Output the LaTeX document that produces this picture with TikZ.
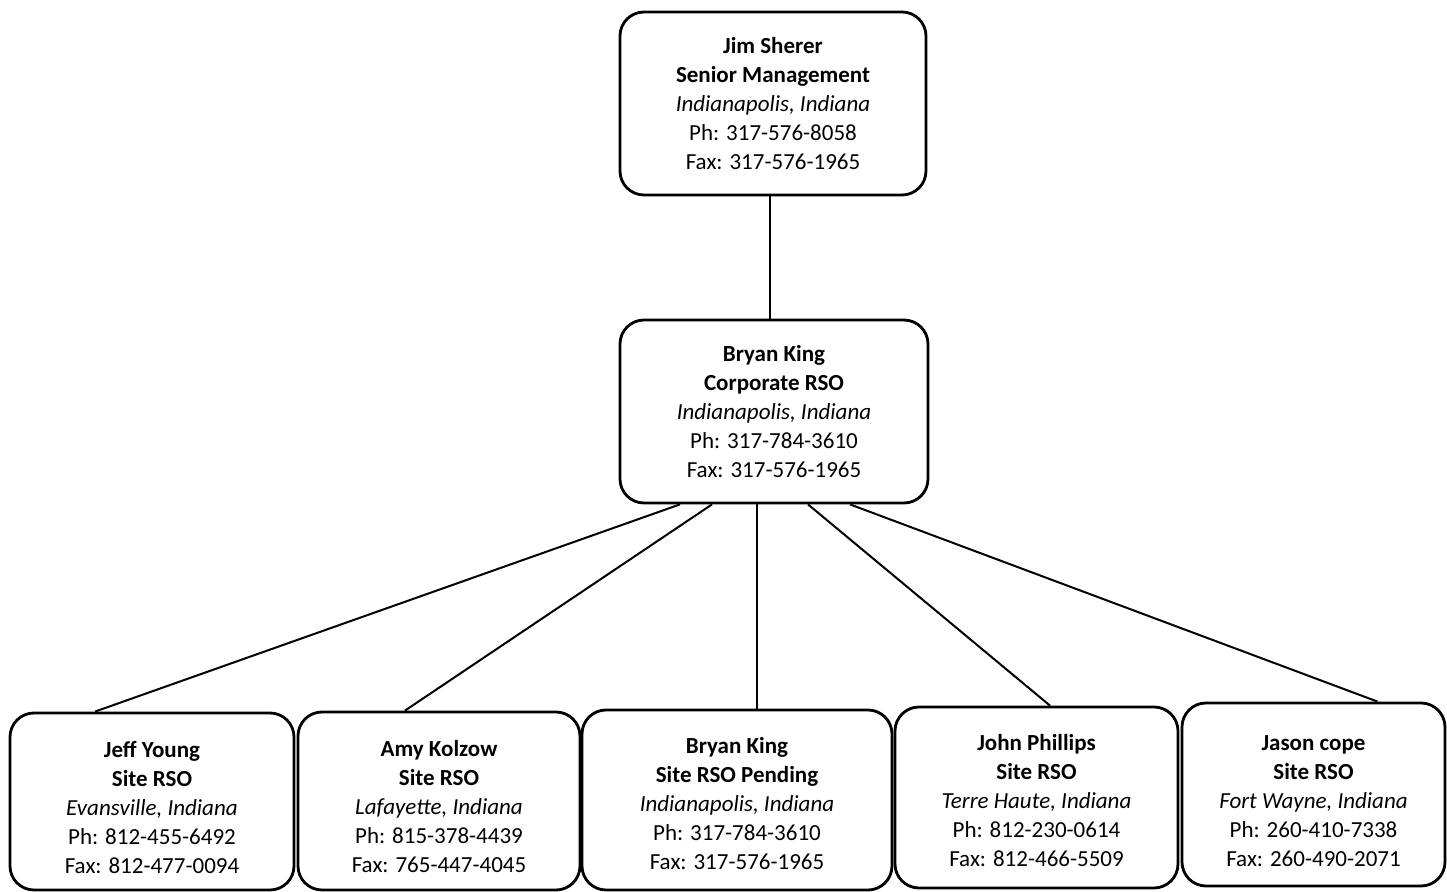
\documentclass[tikz,border=0pt]{standalone}
\usepackage{fontspec}
\setmainfont{Carlito}
\usetikzlibrary{positioning}

\begin{document}
\begin{tikzpicture}
	[x=0.5pt,y=-0.5pt,
	person node/.style={shape=rectangle,rounded corners=12pt,draw,line width=1.4pt,fill=white,align=center,
		font=\fontsize{11.5}{14.5}\selectfont,inner sep=2pt},
	site node/.style={person node,minimum width=142pt}]
	\useasboundingbox (0,0) rectangle (1447,892);
	\node [person node,minimum width=153pt,minimum height=91.5pt] (top) at (773,103.5)
	{\textbf{Jim Sherer}\\ \textbf{Senior Management}\\ \textit{Indianapolis, Indiana}\\ Ph: 317-576-8058\\ Fax: 317-576-1965};
	\node [person node,minimum width=154pt,minimum height=91.5pt] (mid) at (774,411.5)
	{\textbf{Bryan King}\\ \textbf{Corporate RSO}\\ \textit{Indianapolis, Indiana}\\ Ph: 317-784-3610\\ Fax: 317-576-1965};
	
	\node [site node,minimum height=88.5pt] (b1) at (152,801.5)
	{\rule{0pt}{14pt}\textbf{Jeff Young}\\ \textbf{Site RSO}\\ \textit{Evansville, Indiana}\\ Ph: 812-455-6492\\ Fax: 812-477-0094};
	\node [site node,minimum width=141pt,minimum height=89pt] (b2) at (439,801)
	{\rule{0pt}{14pt}\textbf{Amy Kolzow}\\ \textbf{Site RSO}\\ \textit{Lafayette, Indiana}\\ Ph: 815-378-4439\\ Fax: 765-447-4045};
	\node [site node,minimum width=155pt,minimum height=90pt] (b3) at (737,800)
	{\rule{0pt}{12pt}\textbf{Bryan King}\\ \textbf{Site RSO Pending}\\ \textit{Indianapolis, Indiana}\\ Ph: 317-784-3610\\ Fax: 317-576-1965};
	\node [site node,minimum width=141.5pt,minimum height=90.5pt] (b4) at (1036.5,797.5)
	{\rule{0pt}{11pt}\textbf{John Phillips}\\ \textbf{Site RSO}\\ \textit{Terre Haute, Indiana}\\ Ph: 812-230-0614\\ Fax: 812-466-5509};
	\node [site node,minimum width=131.5pt,minimum height=91.5pt] (b5) at (1313.5,794.5)
	{\rule{0pt}{14pt}\textbf{Jason cope}\\ \textbf{Site RSO}\\ \textit{Fort Wayne, Indiana}\\ Ph: 260-410-7338\\ Fax: 260-490-2071};
	
	\path[draw,line width=1pt]
	([xshift=-1.5pt]top.south) edge ([xshift=-2pt]mid.north)
	([xshift=-47pt]mid.south) edge ([xshift=-28.5pt]b1.north)
	([xshift=-31pt]mid.south) edge ([xshift=-17pt]b2.north)
	([xshift=-8.5pt]mid.south) edge ([xshift=10pt]b3.north)
	([xshift=17pt]mid.south) edge ([xshift=6.75pt]b4.north)
	([xshift=38pt]mid.south) edge ([xshift=32pt]b5.north)
	;
	
\end{tikzpicture}
\end{document}
